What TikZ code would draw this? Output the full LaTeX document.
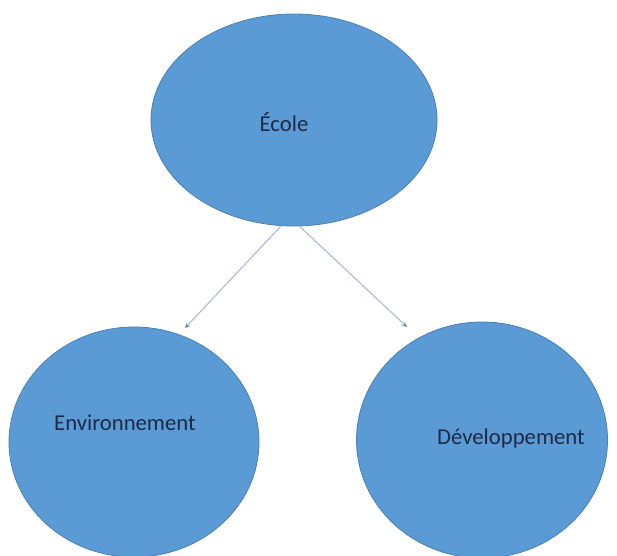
\documentclass[tikz,border=0pt]{standalone}
\usepackage{fontspec}
\setmainfont{Carlito}
\usetikzlibrary{shapes.geometric,arrows.meta}
\definecolor{blobfill}{HTML}{5B9BD5}
\definecolor{blobdraw}{HTML}{4A7FB5}
\definecolor{linkcol}{HTML}{A9BCD6}
\definecolor{tipcol}{HTML}{6F7F94}
\definecolor{txtcol}{HTML}{1F2A44}
\tikzset{
  blob/.style={ellipse, fill=blobfill, draw=blobdraw, line width=0.8pt, inner sep=0pt},
  lbl/.style={font=\fontsize{22.7}{26}\selectfont, text=txtcol, inner sep=0pt},
  link/.style={draw=linkcol, line width=1.1pt, -{Stealth[length=5pt,width=4.5pt,color=tipcol]}}
}
\begin{document}
\begin{tikzpicture}[x=1pt,y=-1pt]
\useasboundingbox (0,0) rectangle (617,555);
\clip (0,0) rectangle (617,555);
\node[blob, minimum width=286pt, minimum height=212pt] (ecole) at (294,120) {};
\node[blob, minimum width=250pt, minimum height=230pt] (env) at (134,442) {};
\node[blob, minimum width=251pt, minimum height=236pt] (dev) at (482,440) {};
\node[lbl] (tecole) at (284,122) {École};
\node[lbl] (tenv) at (125,423) {Environnement};
\node[lbl] (tdev) at (511,438) {Développement};
\coordinate (tipL) at (185,328);
\coordinate (tipR) at (407,327);
\draw[link] (ecole.-97) -- (tipL);
\draw[link] (ecole.-87) -- (tipR);
\end{tikzpicture}
\end{document}
